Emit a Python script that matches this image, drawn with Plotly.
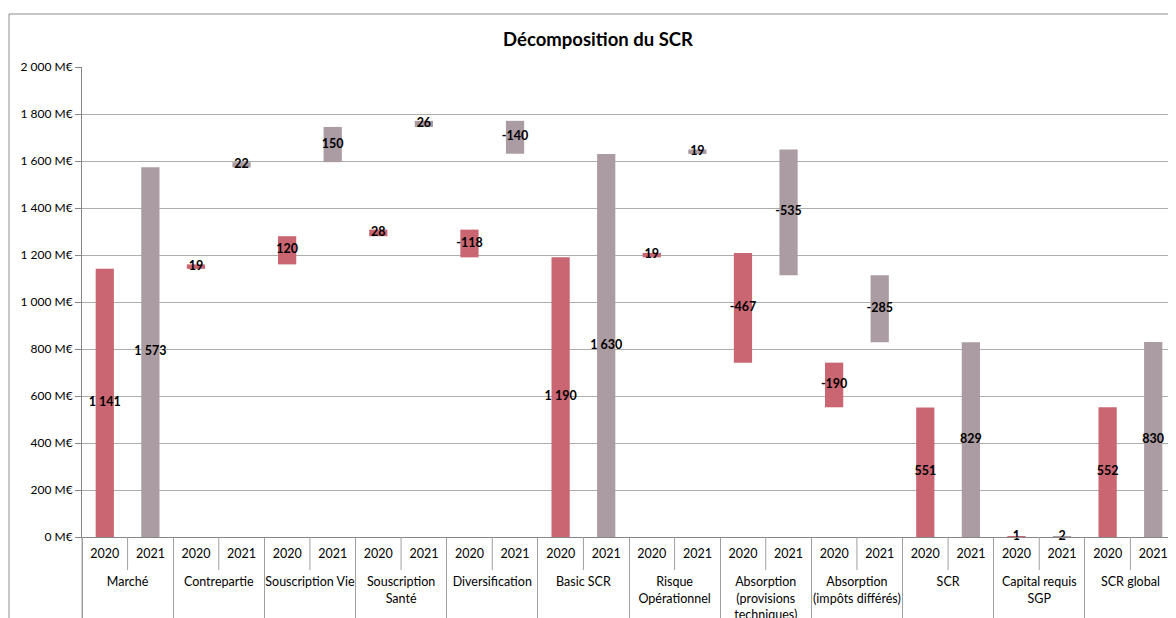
import plotly.graph_objects as go

categories = ["Marché", "Contrepartie", "Souscription Vie", "Souscription<br>Santé",
              "Diversification", "Basic SCR", "Risque<br>Opérationnel",
              "Absorption<br>(provisions<br>techniques)", "Absorption<br>(impôts différés)",
              "SCR", "Capital requis<br>SGP", "SCR global"]
kinds = ["total", "delta", "delta", "delta", "delta", "total", "delta",
         "delta", "delta", "total", "total", "total"]
years = ["2020", "2021"]
values_2020 = [1141, 19, 120, 28, -118, 1190, 19, -467, -190, 551, 1, 552]
values_2021 = [1573, 22, 150, 26, -140, 1630, 19, -535, -285, 829, 2, 830]
tick_vals = [0, 200, 400, 600, 800, 1000, 1200, 1400, 1600, 1800, 2000]

colors = {"2020": "#C96672", "2021": "#AB9BA2"}
year_label = {y: y + "<br>\u00a0" for y in years}


def bases(vals):
    out, running = [], 0
    for v, k in zip(vals, kinds):
        if k == "total":
            out.append(0)
            running = v
        else:
            out.append(running)
            running += v
    return out


def fmt(v):
    return f"{v:,}".replace(",", " ")


series = {"2020": values_2020, "2021": values_2021}
series_bases = {y: bases(series[y]) for y in years}

xc, xy, heights, bs, cols = [], [], [], [], []
for i, c in enumerate(categories):
    for yr in years:
        xc.append(c)
        xy.append(year_label[yr])
        heights.append(series[yr][i])
        bs.append(series_bases[yr][i])
        cols.append(colors[yr])

n_slots = len(categories) * len(years)

fig = go.Figure()
fig.add_trace(go.Bar(
    x=[xc, xy], y=heights, base=bs, width=0.4,
    marker=dict(color=cols, line=dict(width=0)),
    hoverinfo="skip", showlegend=False,
))
fig.add_trace(go.Scatter(
    x=[xc, xy], y=[b + h / 2 for b, h in zip(bs, heights)],
    mode="text", text=[fmt(h) for h in heights],
    textposition="middle center",
    textfont=dict(family="Lato", size=12.5, color="#000000", weight="bold"),
    showlegend=False, hoverinfo="skip", cliponaxis=False,
))

W, H = 1168, 610          # page has an 8px body margin
L, T, B = 74, 59, 81
plot_h = H - T - B

shapes = [dict(type="rect", xref="paper", yref="paper",
               x0=(1 - L) / (W - L), x1=1.05, y0=-0.3, y1=(plot_h + T - 6) / plot_h,
               line=dict(color="#8C8C8C", width=1), fillcolor="rgba(0,0,0,0)",
               layer="below")]
# short separators between the two years of each group
for i in range(len(categories)):
    xp = (2 * i + 1) / n_slots
    shapes.append(dict(type="line", xref="paper", yref="paper",
                       x0=xp, x1=xp, y0=0, y1=-33 / plot_h,
                       line=dict(color="#A0A0A0", width=1)))
shapes.append(dict(type="line", xref="paper", yref="paper", x0=0, x1=0,
                   y0=0, y1=-0.3, line=dict(color="#A0A0A0", width=1)))

fig.update_layout(
    width=W, height=H,
    margin=dict(l=L, r=0, t=T, b=B, autoexpand=False),
    paper_bgcolor="white", plot_bgcolor="white",
    font=dict(family="Lato", size=12.5, color="#000000"),
    title=dict(text="<b>Décomposition du SCR</b>", x=590 / W, xref="container",
               y=1 - 32 / H, yref="container", xanchor="center", yanchor="middle",
               font=dict(family="Lato", size=18.5, color="#000000")),
    xaxis=dict(type="multicategory", range=[-0.5, n_slots - 0.5],
               showgrid=False, showline=True,
               linecolor="#868686", linewidth=1, ticks="",
               ticklabelstandoff=5,
               showdividers=True, dividercolor="#A0A0A0", dividerwidth=1,
               tickfont=dict(family="Lato", size=12.5, color="#000000"),
               automargin=False),
    yaxis=dict(range=[0, 2000], tickvals=tick_vals,
               ticktext=[fmt(v) + " M€" for v in tick_vals],
               showgrid=True, gridcolor="#ADADAD",
               gridwidth=1, showline=True, linecolor="#868686",
               ticks="outside", ticklen=6, tickcolor="#868686",
               zeroline=False, automargin=False,
               tickfont=dict(family="Lato", size=12, color="#000000")),
    shapes=shapes,
)

fig.write_html("out.html")
